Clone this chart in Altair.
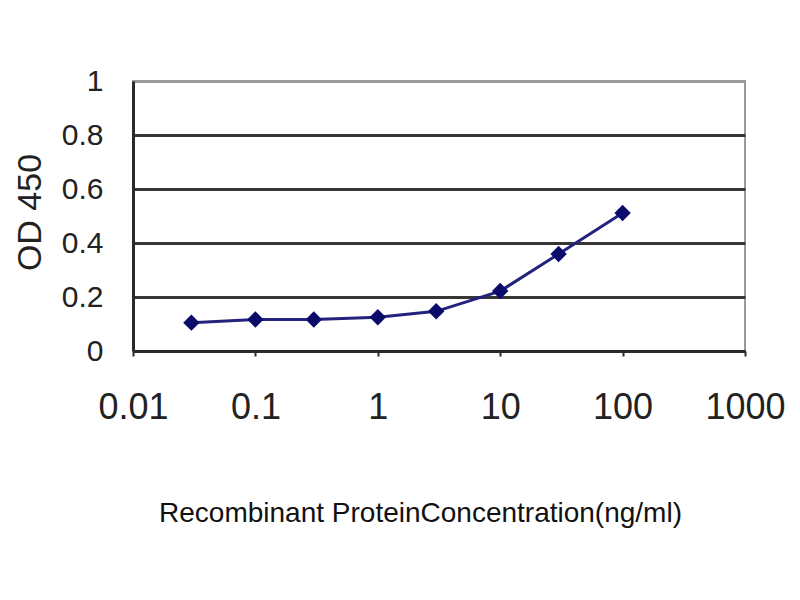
import pandas as pd
import altair as alt

concentration = [0.03, 0.1, 0.3, 1, 3, 10, 30, 100]
od450 = [0.105, 0.117, 0.117, 0.125, 0.147, 0.222, 0.359, 0.511]

x_ticks = [0.01, 0.1, 1, 10, 100, 1000]
y_ticks = [0, 0.2, 0.4, 0.6, 0.8, 1]

df = pd.DataFrame({"conc": concentration, "od": od450})

LINE = "#23237e"
POINT = "#0b0b6b"

x_enc = alt.X(
    "conc:Q",
    scale=alt.Scale(type="log", domain=[0.01, 1000], nice=False),
    axis=alt.Axis(
        values=x_ticks,
        format="~g",
        title="Recombinant ProteinConcentration(ng/ml)",
        grid=False,
        domainColor="#2a2a2a",
        domainWidth=3,
        tickColor="#2a2a2a",
        tickWidth=2,
        tickSize=5,
        labelFont="Liberation Sans",
        labelFontSize=36,
        labelColor="#222",
        labelPadding=34,
        labelFlush=False,
        titleFont="Liberation Sans",
        titleFontSize=28,
        titleFontWeight="normal",
        titleColor="#111",
        titleX=287,
        titleY=170,
        titleAnchor="middle",
        titleAlign="center",
        titleBaseline="alphabetic",
    ),
)

y_enc = alt.Y(
    "od:Q",
    scale=alt.Scale(domain=[0, 1], nice=False),
    axis=alt.Axis(
        values=y_ticks,
        format="~g",
        title="OD 450",
        grid=True,
        gridColor=alt.condition("datum.value == 1", alt.value("#9a9a9a"), alt.value("#363636")),
        gridWidth=3,
        domainColor="#2a2a2a",
        domainWidth=3,
        ticks=False,
        labelFont="Liberation Sans",
        labelFontSize=30,
        labelColor="#222",
        labelPadding=30,
        titleFont="Liberation Sans",
        titleFontSize=34,
        titleFontWeight="normal",
        titleColor="#222",
        titleAngle=270,
        titleX=-103,
        titleY=131,
        titleAlign="center",
        titleBaseline="middle",
    ),
)

line = alt.Chart(df).mark_line(color=LINE, strokeWidth=3).encode(x=x_enc, y=y_enc)
points = alt.Chart(df).mark_point(
    shape="diamond", filled=True, color=POINT, size=270, opacity=1
).encode(x="conc:Q", y="od:Q")

chart = (
    alt.layer(line, points)
    .properties(
        width=612,
        height=270,
        autosize=alt.AutoSizeParams(type="none"),
        padding={"left": 125, "top": 73, "right": 47, "bottom": 241},
        background="white",
    )
    .configure_view(stroke="#9a9a9a", strokeWidth=2)
)

chart.save("out.html", embed_options={"renderer": "svg", "actions": False})
